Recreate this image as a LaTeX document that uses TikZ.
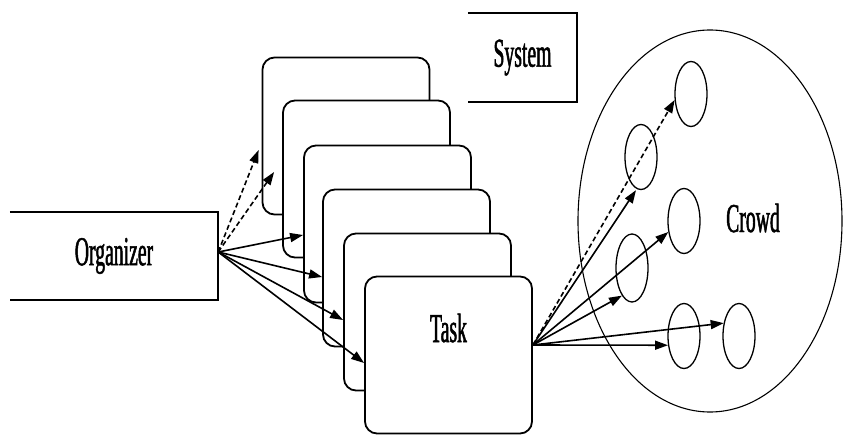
\documentclass[tikz,border=0pt]{standalone}
\usepackage{fontspec}
\newfontfamily\condserif[FakeStretch=0.48,FakeBold=1.2]{Liberation Serif}
\usetikzlibrary{arrows.meta,shapes.geometric,calc}
\begin{document}
\begin{tikzpicture}[x=1pt,y=-1pt,
  txt/.style={font=\condserif\fontsize{41}{41}\selectfont, inner sep=0pt},
  edge/.style={line width=1.8pt},
  taskbox/.style={draw, fill=white, rounded corners=12pt, minimum width=167pt, minimum height=157pt, inner sep=0pt, line width=1.8pt},
  member/.style={ellipse, draw, minimum width=32pt, minimum height=65pt, inner sep=0pt, line width=1.3pt},
  arr/.style={-{Triangle[length=13pt,width=9pt]}, line width=1.6pt},
  darr/.style={arr, dash pattern=on 5pt off 3pt}
]
\useasboundingbox (0,0) rectangle (843,436);
\fill[white] (0,0) rectangle (843,436);

% Organizer
\node[txt, minimum width=208pt, minimum height=88pt] (org) at (114,256) {Organizer};
\draw[edge] (org.north west) -- (org.north east) -- (org.south east) -- (org.south west);

% System
\node[txt, minimum width=109pt, minimum height=89pt] (sys) at (522.5,57.5) {System};
\draw[edge] (sys.north west) -- (sys.north east) -- (sys.south east) -- (sys.south west);

% Task stack
\node[taskbox] (b1) at (346,136) {};
\node[taskbox] (b2) at (366.5,179) {};
\node[taskbox] (b3) at (387.5,224) {};
\node[taskbox] (b4) at (406.5,268) {};
\node[taskbox] (b5) at (427.5,312) {};
\node[taskbox] (b6) at (448.5,355) {};
\node[txt, anchor=base] (tasktxt) at ([yshift=13pt]b6.center) {Task};

% Crowd
\node[ellipse, draw, minimum width=264pt, minimum height=382pt, inner sep=0pt, line width=1.1pt] (crowd) at (710,221) {};
\node[txt, anchor=base] (crowdtxt) at (753,232) {Crowd};
\node[member] (e1) at (691,94) {};
\node[member] (e2) at (641,157) {};
\node[member] (e3) at (684,221) {};
\node[member, minimum height=68pt] (e4) at (632,268) {};
\node[member] (e5) at (684,336) {};
\node[member] (e6) at (739,336) {};

% Connectors from organizer
\coordinate (os) at ([yshift=4pt]org.east);
\draw[darr] (os) -- ([shift={(-3pt,-14pt)}]b1.west);
\draw[darr] (os) -- ([shift={(-8pt,7pt)}]b2.west);
\draw[arr] (os) -- ([yshift=-11pt]b3.west);
\draw[arr] (os) -- ([yshift=-9pt]b4.west);
\draw[arr] (os) -- ([yshift=-8pt]b5.west);
\draw[arr] (os) -- ([yshift=-8pt]b6.west);

% Connectors from task to crowd
\coordinate (ts) at ([yshift=10pt]b6.east);
\draw[darr] (ts) -- (e1.200);
\draw[arr] (ts) -- ([xshift=-5pt]e2.south);
\draw[arr] (ts) -- (e3.215);
\draw[arr] (ts) -- (e4.250);
\draw[arr] (ts) -- (e6.140);
\draw[arr] (ts) -- (e5.210);
\end{tikzpicture}
\end{document}
